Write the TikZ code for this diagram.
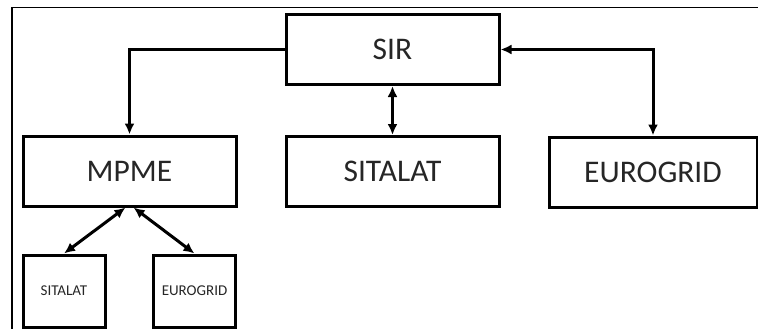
\documentclass[tikz,border=0pt]{standalone}
\usepackage{fontspec}
\setmainfont{Carlito}
\usepackage{tikz}
\usetikzlibrary{arrows,arrows.meta,shapes}

\begin{document}
\begin{tikzpicture}[x=1pt, y=-1pt]
		\tikzstyle{every node} = [rectangle, draw, line width=3pt, text=black!85]
		\tikzstyle{big} = [minimum width=213pt, minimum height=70pt, font=\fontsize{31.5}{34}\selectfont]
		\tikzstyle{small} = [minimum width=82pt, minimum height=72pt, font=\fontsize{15}{17}\selectfont]
		\useasboundingbox (0, 0) rectangle (758, 329);
		\draw [line width=1.5pt] (12, 329) -- (12, 7.5) -- (758, 7.5);
		\node [big] (sir) at (392.5, 49.5) {SIR};
		\node [big] (mpme) at (129.5, 171) {MPME};
		\node [big] (sitalat) at (392.5, 171.5) {SITALAT};
		\node [big, minimum width=208pt] (eurogrid) at (653, 172) {EUROGRID};
		\node [small] (subsitalat) at (64, 291) {SITALAT};
		\node [small] (subeurogrid) at (194.5, 291) {EUROGRID};
		\draw [->,line width=3pt,>={Latex[length=11pt,width=10pt]}] (sir.west) -| (mpme.north);
		\draw [<->,line width=3pt,>={Latex[length=11pt,width=10pt]}] (sir.south) -- (sitalat.north);
		\draw [<->,line width=3pt,>={Latex[length=11pt,width=10pt]}] (sir.east) -| (eurogrid.north);
		\foreach \from/\to in {-4/subsitalat, 4/subeurogrid}
		\draw [<->,line width=3pt,>={Latex[length=11pt,width=10pt]}] ([xshift=\from pt]mpme.south) -- (\to.north);
	\end{tikzpicture}
\end{document}
